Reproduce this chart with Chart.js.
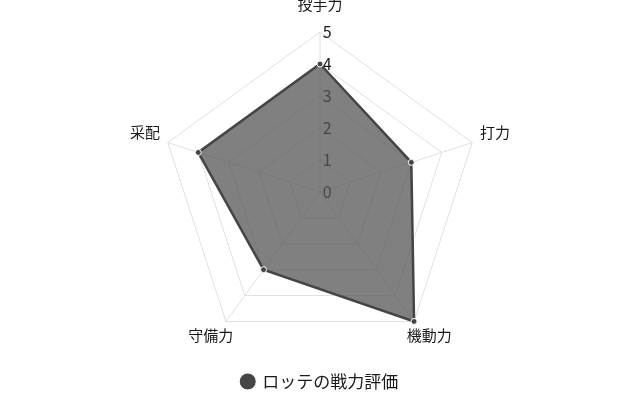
<!DOCTYPE html>
<html><head><meta charset="utf-8">
<script src="https://cdn.jsdelivr.net/npm/chart.js@4"></script>
<style>html,body{margin:0;padding:0;background:#fff;overflow:hidden}#wrap{width:640px;height:400px}</style>
</head><body><div id="wrap"><canvas id="c"></canvas></div>
<script>
const categories = ['投手力','打力','機動力','守備力','采配'];
const values = [4,3,5,3,4];
const seriesName = 'ロッテの戦力評価';
const tickValues = [0,1,2,3,4,5];
// extra label nudges (px) per category, to mimic the reference label placement
const labelNudgeX = [0, 5, -9, 9, -5];
const labelNudgeY = [-16, 0, 2, 2, 0];

Chart.defaults.font.family = '"Noto Sans CJK JP","Noto Sans",sans-serif';
new Chart(document.getElementById('c'), {
  type: 'radar',
  data: { labels: categories, datasets: [{
    label: seriesName, data: values,
    backgroundColor: 'rgba(85,85,85,0.75)', borderColor: '#454545', borderWidth: 2.5,
    pointBackgroundColor: '#454545', pointBorderColor: '#ffffff', pointBorderWidth: 1, pointRadius: 3
  }]},
  options: {
    responsive: true, maintainAspectRatio: false, animation: false,
    layout: { padding: { top: 0, bottom: 0 } },
    plugins: { legend: { position: 'bottom', labels: { usePointStyle: true, pointStyle: 'circle', boxWidth: 12, boxHeight: 12, color: '#1a1a1a', font: { size: 17 } } } },
    scales: { r: {
      min: -0.001, max: tickValues[tickValues.length - 1],
      afterBuildTicks: (s) => { s.ticks = tickValues.map(v => ({ value: v })); },
      afterFit: (s) => {
        const items = s._pointLabelItems;
        if (!items) return;
        items.forEach((it, i) => {
          const dx = labelNudgeX[i] || 0, dy = labelNudgeY[i] || 0;
          it.x += dx; it.left += dx; it.right += dx;
          it.y += dy; it.top += dy; it.bottom += dy;
        });
      },
      ticks: { showLabelBackdrop: false, backdropPadding: -10, color: '#1a1a1a', font: { size: 16 },
        callback: (v) => '    ' + Math.round(v) },
      grid: { color: '#e0e0e0' }, angleLines: { color: '#e0e0e0' },
      pointLabels: { color: '#1a1a1a', font: { size: 15 } }
    } }
  }
});
</script></body></html>
